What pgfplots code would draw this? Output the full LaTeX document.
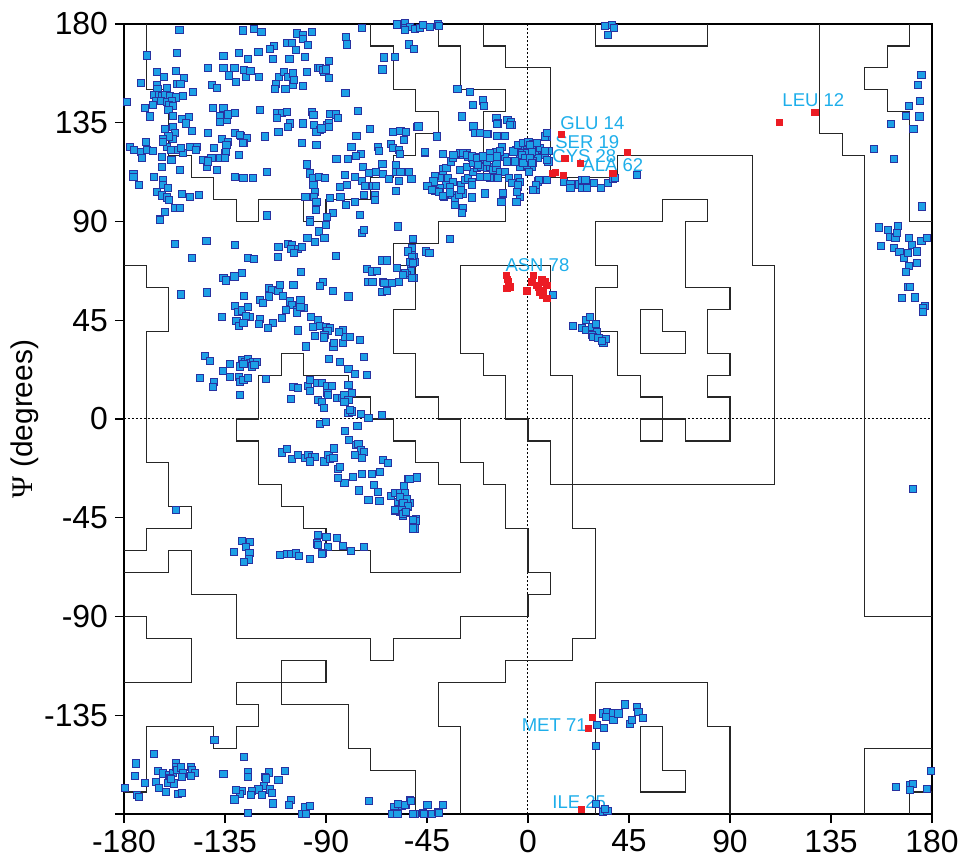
\documentclass[border=0pt]{standalone}
\usepackage{fontspec}
\setmainfont{Liberation Sans}
\newfontfamily\psifont{Liberation Serif}
\usepackage{pgfplots}
\pgfplotsset{compat=1.18}
\definecolor{ptfill}{RGB}{28,160,230}
\definecolor{ptedge}{RGB}{40,50,160}
\definecolor{redpt}{RGB}{236,28,36}
\definecolor{lab}{RGB}{30,174,234}
\pgfplotsset{reg/.style={black!85, line width=0.6bp, mark=none, forget plot}}
\begin{document}
\begin{tikzpicture}
\begin{axis}[name=ax, scale only axis, width=404bp, height=395bp,
 xmin=-180, xmax=180, ymin=-180, ymax=180,
 xtick={-180,-135,-90,-45,0,45,90,135,180},
 ytick={-180,-135,-90,-45,0,45,90,135,180},
 xticklabels={-180,-135,-90,-45,0,45,90,135,180},
 yticklabels={,-135,-90,-45,0,45,90,135,180},
 tick pos=left, tick align=outside, major tick length=4.5bp,
 tick style={black, line width=0.6bp},
 tick label style={font=\fontsize{16}{18}\selectfont},
 ylabel={{\psifont Ψ} (degrees)}, ylabel style={font=\fontsize{15}{18}\selectfont, yshift=-4bp},
 axis line style={line width=0.75bp},
 clip=false]
% zero lines
\addplot[forget plot, black, line width=0.5bp, dash pattern=on 1bp off 1bp] coordinates {(0,-180) (0,180)};
\addplot[forget plot, black, line width=0.5bp, dash pattern=on 1bp off 1bp] coordinates {(-180,0) (180,0)};
% region boundaries
\addplot[reg] coordinates {(-170,180) (-170,150) (-160,150) (-160,120) (-150,120) (-150,110) (-140,110) (-140,100) (-130,100) (-130,90) (-120,90) (-120,100) (-100,100) (-100,90) (-90,90) (-90,100) (-70,100) (-70,110) (-60,110) (-60,120) (-50,120) (-50,130) (-40,130) (-40,140) (-50,140) (-50,150) (-60,150) (-60,170) (-70,170) (-70,180)};
\addplot[reg] coordinates {(-40,180) (-40,170) (-30,170) (-30,150) (-10,150) (-10,140) (-20,140) (-20,110) (-10,110) (-10,90) (-40,90) (-40,80) (-60,80) (-60,70) (-50,70) (-50,50) (-60,50) (-60,30) (-50,30) (-50,10) (-40,10) (-40,0) (-30,0) (-30,-20) (-20,-20) (-20,-30) (-10,-30) (-10,-50) (0,-50) (0,-70) (10,-70) (10,-80) (0,-80) (0,-90) (-30,-90) (-30,-100) (-60,-100) (-60,-110) (-70,-110) (-70,-100) (-130,-100) (-130,-80) (-150,-80) (-150,-60) (-160,-60) (-160,-70) (-180,-70)};
\addplot[reg] coordinates {(-20,180) (-20,170) (-10,170) (-10,160) (10,160) (10,110) (40,110) (40,120) (100,120) (100,70) (110,70) (110,-30) (10,-30) (10,-10) (0,-10) (0,0) (-10,0) (-10,20) (-20,20) (-20,30) (-30,30) (-30,70) (10,70) (10,20) (20,20) (20,-50) (30,-50) (30,-100) (20,-100) (20,-110) (-10,-110) (-10,-120) (-40,-120) (-40,-140) (-30,-140) (-30,-180)};
\addplot[reg] coordinates {(30,90) (60,90) (60,100) (80,100) (80,90) (70,90) (70,60) (90,60) (90,50) (80,50) (80,30) (90,30) (90,20) (80,20) (80,10) (90,10) (90,-10) (70,-10) (70,0) (50,0) (50,-10) (60,-10) (60,10) (50,10) (50,20) (40,20) (40,40) (30,40) (30,60) (40,60) (40,70) (30,70) (30,90)};
\addplot[reg] coordinates {(50,50) (60,50) (60,40) (70,40) (70,30) (50,30) (50,50)};
\addplot[reg] coordinates {(30,180) (30,170) (80,170) (80,180)};
\addplot[reg] coordinates {(-110,30) (-110,20) (-120,20) (-120,0) (-130,0) (-130,-10) (-120,-10) (-120,-30) (-110,-30) (-110,-40) (-100,-40) (-100,-50) (-90,-50) (-90,-60) (-70,-60) (-70,-70) (-30,-70) (-30,-30) (-40,-30) (-40,-20) (-50,-20) (-50,-10) (-60,-10) (-60,0) (-70,0) (-70,10) (-80,10) (-80,20) (-100,20) (-100,30) (-110,30)};
\addplot[reg] coordinates {(-180,70) (-170,70) (-170,60) (-160,60) (-160,40) (-170,40) (-170,-20) (-160,-20) (-160,-40) (-150,-40) (-150,-50) (-170,-50) (-170,-60) (-180,-60)};
\addplot[reg] coordinates {(-180,-90) (-170,-90) (-170,-100) (-150,-100) (-150,-120) (-180,-120)};
\addplot[reg] coordinates {(-180,-170) (-170,-170) (-170,-140) (-140,-140) (-140,-150) (-130,-150) (-130,-140) (-120,-140) (-120,-130) (-130,-130) (-130,-120) (-90,-120) (-90,-110) (-110,-110) (-110,-130) (-80,-130) (-80,-150) (-70,-150) (-70,-160) (-50,-160) (-50,-180)};
\addplot[reg] coordinates {(30,-180) (30,-120) (80,-120) (80,-140) (90,-140) (90,-180)};
\addplot[reg] coordinates {(50,-140) (60,-140) (60,-160) (70,-160) (70,-170) (50,-170) (50,-140)};
\addplot[reg] coordinates {(130,180) (130,130) (140,130) (140,120) (150,120) (150,-90) (180,-90)};
\addplot[reg] coordinates {(170,180) (170,170) (160,170) (160,160) (150,160) (150,150) (160,150) (160,140) (170,140) (170,90) (180,90)};
\addplot[reg] coordinates {(150,-180) (150,-150) (180,-150)};
\addplot[reg] coordinates {(170,-180) (170,-170) (180,-170)};
% residues
\addplot[only marks, mark=square*, mark size=1.8bp, mark options={fill=ptfill, draw=ptedge, line width=0.5bp}] table {
x y
-155.3 177.3
-127.1 177
-122.1 177.7
-118.7 176.5
-102.8 175.7
-100.4 175
-100.4 173.2
-96.1 176.2
-107.5 171.3
-105.3 171.3
-113.2 170.1
-114.9 168.6
-97.9 170.4
-103.4 168.2
-169.9 165.6
-156.5 166.6
-135.7 165.4
-128.6 166.6
-120.1 167.1
-124.7 164
-113.5 164
-106.3 164
-99.4 165.1
-93.4 160.1
-90.9 158.3
-142.4 159.8
-135.7 159.8
-130.8 160.1
-126.5 159
-125.6 156
-123.6 158.6
-133.1 156.5
-130.1 153.7
-119.7 156
-110.8 155.8
-108.6 158.3
-106.8 155.7
-104.8 157.4
-112.3 152.8
-112.7 150.4
-108 150.4
-104.6 152.2
-104.1 154.5
-100.4 151.9
-98.6 158.3
-165.4 158.3
-162 156
-153.3 155.5
-156.8 158.6
-172.6 153
-165.4 152.2
-165.1 150.4
-161 151
-156.5 152.7
-154.8 152.5
-149.4 148.9
-153.6 147.2
-140.9 152.2
-138.7 151
-166.5 147.5
-164.5 147.5
-163 147
-161.5 147.5
-159.5 147
-157 146.5
-165.5 145
-163.5 145
-161 144.5
-158.5 145
-167 143
-160 143
-158 142.5
-170.6 141.9
-168.4 137.8
-178.8 144.3
-160.2 140.8
-158.3 138
-154.3 136.7
-150.9 137.5
-152.4 134.7
-149.8 131.2
-161.7 132.1
-158 132.9
-157.3 130.2
-158 127.6
-160.2 128.7
-162.8 127.6
-161 124.1
-158.8 122.6
-155.8 122.6
-153.6 121.1
-158.8 118
-163.2 119.5
-162.5 126.4
-150.6 124.1
-147.6 124.1
-147.9 122.6
-155 113.5
-163.2 114.7
-166.5 110.4
-175.8 111.6
-175.8 110.1
-173.2 106.6
-162.5 108.9
-162.5 106.6
-160.5 105.1
-165.4 103.3
-163.2 101.8
-160.7 100.9
-159.8 99.8
-157.3 96
-155 96.3
-161.7 94.2
-164 91.1
-154.3 102.5
-150.6 101.3
-146.6 102.1
-177.3 124.1
-175.5 122.6
-172.6 121.8
-172.1 118.8
-170.2 126.4
-169.9 122.6
-167.2 122.3
-154.6 123.6
-142.4 130.2
-139.8 123.6
-141 118.8
-142.9 115
-138.4 113.5
-137.2 118.8
-135 121.1
-136.5 127.6
-133.5 126.4
-134.3 124.9
-134.6 121.8
-134.9 119.1
-130.5 130.2
-128 129.1
-125.3 127.9
-126.8 125.6
-128.6 120.3
-135.7 141.6
-137.2 138.2
-134 136.3
-133.5 138.8
-130.4 139.3
-140.5 141.9
-144.6 117.9
-142.4 117.3
-130.5 110.4
-126.8 110
-122.7 110
-116.4 112.7
-119.4 140.8
-112 139.3
-109.7 139.3
-107.5 140
-112 137
-106 134.7
-106.8 133.2
-111.2 130.9
-100.4 134.7
-96.4 140
-95.6 138.5
-95.3 134
-92.7 131.7
-94.2 130.9
-89.7 134
-94.2 124.9
-100.8 125.6
-98.6 116
-97.1 111.9
-95.9 109.7
-95.6 106.6
-94.9 103.6
-95.2 101.3
-94.2 99
-94.4 95.2
-97.1 90.7
-99.1 101.3
-93 110.4
-116.4 92.7
-117 128.7
-128.3 129.4
-127.1 125.6
-137.2 135.5
-92.7 159.8
-74.1 178.3
-58.5 179.8
-54.8 180.3
-54.8 178
-52.6 178.8
-50.4 177.8
-48.1 178.3
-46.7 179.5
-43.7 178.8
-40 179.8
-39.5 179.2
-54.8 177.3
-81.1 173.9
-80.8 170.7
-52.9 170.7
-50.8 168.5
-88.7 163.1
-91.2 159
-90 159.3
-88.5 155.5
-64 164.7
-59.1 165.1
-64.8 159.3
-81.3 148.4
-75.9 140.4
-31.4 150.4
-25.9 148.9
-24.4 143.1
-20.2 145.1
-19.6 142.8
-29.3 137.8
-24.4 133.2
-23.4 130.2
-18 129.9
-14 137.3
-13.2 134.7
-9.1 136.3
-7.6 135.1
-7.3 134
-49.2 133.2
-70.4 132.1
-88.2 139
-85.7 138.8
-84.8 137
-88.7 135
-88.5 132.9
-92 132.4
-76.4 129.1
-60.3 130.6
-56.8 131.2
-54.4 130.6
-55.1 127.1
-40.7 128.4
-45.8 121.4
-78.6 123.8
-74.4 120.6
-76.7 120
-85.3 118.3
-80.1 118.5
-66.7 124.1
-66.3 122.3
-61.1 125.2
-60.3 123.6
-57.5 122.6
-57.1 120.6
-64.8 116.2
-58.8 115.7
-73.4 114.7
-70.7 112.2
-67.8 112.4
-64.5 111.5
-58.8 112.4
-56.8 112.7
-52.9 112.7
-51.9 109.4
-57.3 108.6
-58.8 103.9
-61.8 109.4
-81.6 111.2
-77.1 110.4
-90.5 109.7
-74.1 108.6
-72.6 106.3
-80.5 106.6
-83.8 105.9
-88.2 100.6
-83.5 101.3
-81.1 97.5
-77.1 99
-73.1 102.1
-69 106.3
-68.2 102.1
-68.2 99.8
-67.7 106.3
-86.8 94
-89.4 92.2
-74.9 93
-38 113.9
-36.3 114.5
-34.3 117.3
-33.3 118.8
-32.5 120.3
-30.3 121.1
-28.8 120.3
-27.3 121.1
-26.6 119.5
-25.1 118.8
-22.9 118.8
-21.4 119.5
-19.6 118.5
-17.7 118.8
-16.2 119.5
-14.7 120.3
-14 121.8
-12.5 121.5
-10.3 119.5
-8.8 117.3
-6.6 121.8
-5.1 122.6
-3.6 123.3
-2.1 124.1
-0.6 124.9
0.9 124.1
2.4 123.6
3.8 122.6
3.1 121.1
0.9 120.3
-2.1 119.5
-3.6 118.8
-4.3 117.3
-2.4 115.7
0.1 115
2.4 116.5
4.6 118.8
-0.6 121.8
-2.8 121.1
-40.7 110.4
-37.7 111.2
-35.5 109.7
-33.3 108.1
-36.6 106.6
-34.8 105.9
-39.2 105.1
-41.5 103.9
-37.5 101.3
-34 102.1
-30.6 102.1
-28.8 102.8
-30 106.6
-28.1 108.9
-26.6 109.7
-25.1 108.1
-24.4 112.7
-22.9 114.2
-20.7 115
-18.4 114.2
-17 115
-15.5 113.5
-14 114.2
-12.5 112.7
-10.3 112.7
-8.3 109.7
-6.9 107.4
-4.3 109.7
-3.6 108.1
-4.3 105.9
-3.6 101.3
-5.1 99
-11.3 102.8
-11.8 99
-17 110
-13.2 109.7
-25.1 100.9
-19.2 102.8
-28.8 96
-32.5 97.5
-39.2 109.7
-30.3 113.5
-27.3 115
-24.4 116.5
-22.2 115.7
-18.4 117.3
-14 116.5
-6.5 121.9
-4.3 124.9
-2 125.7
0.2 126.4
2.4 125.4
3.9 124.1
1.7 122.6
-0.6 121.1
-2.8 120.3
-1.3 118.8
0.9 118.4
2.4 117.3
1.7 115
-0.6 115.8
-3.5 115
-5.8 117.3
-2 116.5
5.4 123.4
8.3 128.7
9.1 122.3
7.6 120.3
9.1 117.3
4.6 108.2
3.6 104.4
8.3 109
-48.8 133.3
-24.3 133.6
-21.4 130.2
-18.1 129.9
-13.9 134.5
-10.2 129
-8 134
-13.9 129
-11.7 124.1
-16.9 121.1
-12.4 121.9
-9.5 117.3
-40.7 128.7
-32.5 100.6
-29.5 93.8
-34.7 81.9
-45.9 121.6
-38 120.7
-33.2 120.3
-28.8 121.1
-27.3 120.3
-25.1 119.6
-22.8 118.8
-19.9 119.6
-16.9 118.8
-13.9 119.6
-41.4 110.8
-42.1 108.2
-44.8 106.2
-42.9 104.4
-39.5 103.6
-37.7 101.7
-34.7 103.2
-30.6 102.1
-30 104.4
-25.1 106.7
-21.4 110.2
-18.4 110.2
-13.2 109.7
-11 102.9
-7.2 107.4
-5 103.6
-4.3 106.7
34.2 179.2
37.4 179.5
38.2 178.3
35.6 175
175.3 156.8
173.8 152.2
174.8 144.9
169.6 142.8
168.4 138.2
174.4 137.8
161.9 134.6
171.8 132.1
154.3 123
162.9 118.5
175.6 96.8
156.5 87.3
160.3 86.1
164.7 87.9
161.4 83
163.7 82.6
164.4 84.6
169.6 82.6
157.4 79
162.9 78.1
165.5 76
167.7 73.5
169.2 75.5
171.1 79.3
173.3 76.3
175.3 81.2
177.8 82.6
169.6 69.9
168.4 66.9
173.3 71
169.3 60.3
7.7 128.7
8.5 130.2
4 125.6
1 124.9
1.8 121.8
1 118.8
1.8 116.5
0.3 112.7
7.7 122.1
8.5 118
4.8 108.9
3.6 106.6
2.1 104.3
8.5 108.9
15.9 108.1
18.9 106.9
18.9 105.4
22.6 106.9
24.1 108.9
25.6 108.9
24.1 105.4
26.3 105.4
29.3 107.4
32.7 105.4
35.6 107.4
37.7 109.4
38.6 110
48.6 111.2
-164 90.7
-157.3 79.8
-143.2 81.1
-130.5 79.3
-149.8 73.5
-124.6 73.2
-122 72.9
-111.2 78.2
-111.5 73.7
-106.8 79.6
-105.3 79.3
-105.6 77.3
-102.6 77.3
-104.1 75.5
-100.8 78.5
-98.2 82.3
-94.9 80.8
-93.1 85.4
-90.7 82.3
-85.5 74.3
-73.8 84.6
-72.9 86.1
-57.8 87.7
-97.1 89.9
-90.1 88.4
-154.6 56.7
-142.9 57.6
-135.7 64.1
-134.7 63.1
-130.8 64.9
-127.6 66.7
-101.1 67.1
-91.2 62.3
-92.7 60.6
-87 58.3
-80 55.8
-115.4 59.6
-114.2 58.8
-111.2 58.5
-110.6 61.1
-109.1 56.1
-115.3 55.8
-119.3 54.2
-118.1 53
-104.5 61.1
-101.4 54.2
-105.9 53.5
-105.1 52
-107.8 49.7
-102.9 49.7
-102.9 48.5
-99.9 50.4
-101.4 51.2
-109.7 45.9
-113.5 43.9
-115.7 41.3
-119.3 45.4
-119.7 43.3
-126.5 56.1
-130.5 51.5
-129.3 48.9
-127.6 49.4
-124.6 50.9
-123.9 46.6
-125.7 47.1
-129.9 44.8
-128.9 42.4
-126.8 43.9
-136.2 46.6
-96.7 46.6
-93.4 45.1
-92.7 42.4
-95.7 42.1
-90.1 42.1
-88.1 41.3
-89.3 40.1
-90.7 38.3
-90.8 37.1
-94.8 37.8
-102.3 40.3
-98.9 33
-86.7 33
-86.3 34.5
-82.3 34.8
-82.3 40.6
-81.6 37.5
-79.3 37.2
-84.2 39.8
-74.9 36
-88.5 27.2
-83.6 26.1
-80 22.8
-77 20.4
-71.8 20.1
-73 28.4
-143.9 28.7
-141.7 26.4
-132.8 25.1
-136 21.9
-146.1 18.5
-139.9 17
-140.4 14.4
-132.8 19
-128.3 11
-127.6 26.9
-126.1 26.1
-124.9 27.2
-123.9 25.4
-122.4 26.1
-120.9 26.1
-128.3 23.9
-126.8 25.1
-123.1 23.9
-121.9 24.6
-128.6 19.3
-128.3 17
-126.8 17.8
-124.9 18.6
-116.9 18.1
-104.5 14.7
-102.6 14
-98.1 15
-97.1 17.8
-94.1 16.3
-91.9 16.3
-89.7 15.1
-87.4 15.2
-89.3 12
-89.2 10.9
-97.1 12.9
-105.6 9.1
-93.7 8.7
-91.9 7.9
-90.8 4.9
-85.2 9.4
-82.9 9.4
-81.8 10.9
-80 8.7
-81.8 7.9
-80 15.5
-78.5 11.7
-80 2.6
-78.5 3.4
-79.3 4.1
-74.4 2.3
-71.1 0.3
-65.2 1.8
-92.7 -2.3
-90.1 -1.5
-81.5 -5.5
-76 -3.2
-79.7 -9.6
-76.7 -11.8
-75.5 -11.4
-74.4 -14.4
-72.9 -14.9
-77 -16.4
-73.8 -17.9
-64.7 -18.7
-62.5 -19.9
-65.9 -24
-69.6 -25.1
-74.1 -25.1
-78.1 -26.6
-81.8 -29.3
-84.8 -27
-75.3 -32.6
-68.6 -30.1
-66.7 -33.1
-71.1 -36.9
-66.2 -37.4
-61.2 -35.1
-53.3 -27.5
-109.7 -15.3
-107.5 -13.8
-105 -18.2
-102.3 -16.4
-99.3 -17.9
-97.8 -16.4
-96.4 -17.5
-94.9 -17.5
-97.1 -19.4
-90.7 -19.4
-88.9 -16.4
-88.1 -18.4
-86.7 -17.9
-86.3 -13.4
-84.8 -22.9
-83.8 -21.7
-59.3 -33.9
-57.1 -33.6
-54.9 -34.6
-55.6 -37
-57.8 -37.7
-56.3 -39.2
-54.1 -39.2
-52.6 -38.1
-54.9 -41.5
-57.1 -42.2
-59 -41.8
-53.4 -40.2
-55.1 -30.5
-51.8 76.3
-50.7 74
-51 71.7
-52.2 70.2
-50.2 71.7
-52.2 67.2
-54 65.6
-50.7 64.1
-65.2 72.2
-62.9 72.2
-71.9 68.4
-69.6 67.2
-67.4 67.6
-71.1 62.6
-69.3 62.6
-64.7 62.6
-63.9 61.8
-60.6 62.1
-58.4 68.7
-57.6 62.6
-65.2 58
-62.9 58.5
-51.4 81.9
-51.8 77.8
-53.3 76.3
-51.8 74
-52.5 71.7
-51.1 71.2
-54.8 66.4
-55.8 65.6
-51.8 64.1
-45.4 76.3
-43.9 75.5
11 56.5
20.2 42.4
24 41.3
25.9 45.1
27.7 46.3
25.9 40.6
28.4 42.1
30.3 43.3
30.6 39.8
28.4 38.3
29.1 37.2
31.4 36.8
33.6 34.5
34.8 36.3
32.9 35.7
-52.8 -27.5
-49.3 -26.7
-55.2 -30.4
-54.8 -33.6
-57 -35.4
-54 -36.6
-55.5 -38.4
-53.3 -39.6
-56.3 -41.5
-54.8 -43
-55.8 -44.2
-49.9 -45.7
-55.8 -43.3
-54.3 -42.3
-49.9 -46.4
-50.3 -49.9
-56.3 -176.4
-54.3 -175.9
-52.5 -173.7
-50.3 -180
-46.9 -179.4
-46.3 -180
-44.8 -175.9
-42.9 -180
-39.9 -179
-39.5 -179.7
-37.7 -175.9
30.6 -139.5
33.9 -140.7
33.6 -134.2
35.1 -133.4
34.8 -135.7
38.1 -133.9
38.1 -137.2
40.3 -134.2
43.3 -130.1
48.5 -131.1
49.2 -133.7
51.4 -136.1
45.5 -139
46.2 -137.2
30.3 -148.9
30.3 -175.6
33.3 -179
35.4 -178.7
34.3 -177.9
-157 -41.5
-127.3 -55.6
-123.8 -55.9
-125.8 -58.2
-131 -60.5
-124.1 -60.9
-124.3 -64
-126.4 -65
-110.5 -62
-107.5 -61.7
-105.6 -61.7
-103.4 -61.3
-101.9 -62.5
-97.1 -63.8
-93.7 -52.9
-89.8 -53.7
-94.1 -56.7
-93.7 -57.5
-89.2 -58.2
-91.6 -61
-91.9 -61.7
-85.2 -54.4
-82.6 -57.9
-79 -60
-73.2 -58.2
-59.2 -41.5
-51.1 -46
-51.1 -49.9
-139.7 -146.3
-166.5 -152.7
-174.8 -157
-175.1 -162.7
-170.6 -165.8
-179.5 -168
-174.3 -171.4
-173.3 -172.4
-165 -160.3
-162.5 -161.5
-159.8 -162.3
-158 -161.2
-157 -156.6
-157 -158.5
-156.5 -160
-154.6 -158.8
-153.6 -161.5
-154.3 -163
-150.1 -158.5
-149.8 -160
-148.4 -161.2
-150.1 -162.7
-159.5 -163.8
-160.2 -165.8
-157.6 -166.1
-165.7 -165.3
-164.4 -168.3
-161.4 -169.9
-155.8 -170.9
-154 -170.3
-159 -164.2
-135.7 -161.8
-126.4 -153.9
-124.6 -160.7
-124.6 -163
-115.4 -161.1
-117.2 -163
-116.9 -163.8
-111.2 -164.5
-108.3 -160.4
-117.5 -167.3
-114.9 -168.8
-114.2 -170.6
-120.1 -168.8
-122.8 -169.4
-123.4 -171.4
-127.6 -169.4
-128.3 -170.9
-130.2 -169.1
-130.8 -173.4
-118.6 -171.4
-113.5 -175.2
-105.6 -173.7
-106.5 -175.9
-99.3 -176.7
-97.1 -176.4
-124.9 -179.4
-100.8 -180
-99 -180
-70.8 -174
-59.5 -176.7
-57.8 -175.5
-54.8 -175.9
-52.1 -174
-59.2 -179.7
-60.7 -180
-58.1 -180
-51.1 -180
163.8 -167.6
170.2 -166.8
171.4 -166.4
170.2 -169.1
177.6 -168.7
179.4 -160.3
170.2 60.3
166.8 55.2
172.4 55.4
176.9 51.5
176.1 50.4
176.1 48.6
171.7 -31.9
};
% outliers
\addplot[only marks, mark=square*, mark size=1.6bp, mark options={fill=redpt, draw=redpt, line width=0.2bp}] table {
x y
14.9 129.9
44.3 121.5
16.3 118.8
23.3 116.5
10.7 112
12.2 112.4
15.6 111.2
37.7 112.1
112 135.2
127.7 139.7
-9.8 65.6
-8.7 62.6
-8 60.3
-9.5 59.6
-9.2 63.8
2.4 65.6
1.7 62.6
3.9 61.1
6.1 63.4
7.6 62.6
8.3 61.1
6.9 58.8
5.1 58
6.6 56.5
8.3 55
-0.6 58.5
4.5 60
28.7 -136
26.9 -141
23.6 -177.8
};
\tikzset{reslab/.style={text=lab, inner sep=0pt, font=\fontsize{9.3}{11}\selectfont}}
\node[reslab, anchor=base west] at (axis cs:14.3,131.7) {GLU 14};
\node[reslab, anchor=base west] at (axis cs:12,123.1) {SER 19};
\node[reslab, anchor=base west] at (axis cs:10.7,117.1) {CYS 28};
\node[reslab, anchor=base west] at (axis cs:24.1,112.6) {ALA 62};
\node[reslab, anchor=base west] at (axis cs:113.2,142.2) {LEU 12};
\node[reslab, anchor=base west] at (axis cs:-10.2,67) {ASN 78};
\node[reslab, anchor=base east] at (axis cs:26.3,-142.6) {MET 71};
\node[reslab, anchor=base west] at (axis cs:10.7,-177.3) {ILE 25};
\end{axis}
\pgfresetboundingbox
\useasboundingbox ([shift={(-62bp,-21bp)}]ax.south west) rectangle ([shift={(14.5bp,12bp)}]ax.north east);
\end{tikzpicture}
\end{document}
